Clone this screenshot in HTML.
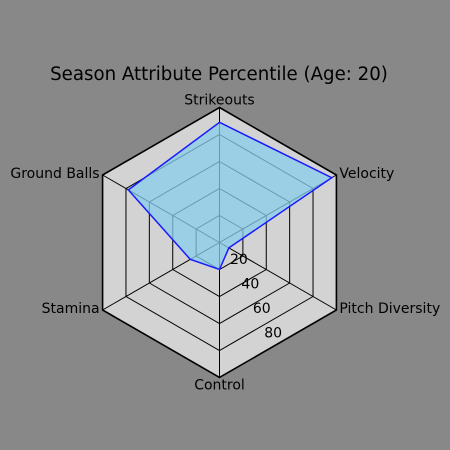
<!DOCTYPE html>
<html><head><meta charset="utf-8"><style>
html,body{margin:0;padding:0;background:#888888;}
svg{display:block;font-family:"DejaVu Sans","Liberation Sans",sans-serif;}
</style></head><body>
<svg id="chart" width="450" height="450" viewBox="0 0 450 450">
<rect x="0" y="0" width="450" height="450" fill="#888888"/>
<text x="219" y="80" font-size="18.2" text-anchor="middle" fill="#000">Season Attribute Percentile (Age: 20)</text>
<g id="plot"></g>
</svg>
<script>
const categories = ["Strikeouts","Velocity","Pitch Diversity","Control","Stamina","Ground Balls"];
const values = [89, 96, 8, 20, 25, 78];
const ticks = [20, 40, 60, 80];
const maxVal = 100;
const cx = 219.5, cy = 242.5, R = 135;
const ns = "http://www.w3.org/2000/svg";
const g = document.getElementById('plot');
function ang(i){ return -Math.PI/2 + i*2*Math.PI/categories.length; }
function pt(i, v){ const r = v/maxVal*R; return [cx + r*Math.cos(ang(i)), cy + r*Math.sin(ang(i))]; }
function poly(v){ return categories.map((c,i)=>pt(i, typeof v==='number'?v:v[i]).join(',')).join(' '); }
function mk(tag, attrs){ const e=document.createElementNS(ns,tag); for(const k in attrs) e.setAttribute(k,attrs[k]); g.appendChild(e); return e; }
let bg = mk('polygon',{points:poly(maxVal),fill:'#d3d3d3',stroke:'none'});


ticks.forEach(t=>{
  let gl = mk('polygon',{points:poly(t),fill:'none',stroke:'#000',"stroke-width":'1'});
  
  
});
categories.forEach((c,i)=>{
  const p = pt(i, maxVal);
  let sp = mk('line',{x1:cx,y1:cy,x2:p[0],y2:p[1],stroke:'#000',"stroke-width":'1'});
  
  
});
let area = mk('polygon',{points:poly(values),fill:'#87ceeb',"fill-opacity":'0.75',stroke:'none'});


let outer = mk('polygon',{points:poly(maxVal),fill:'none',stroke:'#000',"stroke-width":'1.6'});


let line = mk('polygon',{points:poly(values),fill:'none',stroke:'#1a1aff',"stroke-width":'1.5'});


categories.forEach((c,i)=>{
  const p = pt(i, maxVal);
  const a = ang(i), cs = Math.cos(a), sn = Math.sin(a);
  let x = p[0], y = p[1], anchor = 'middle';
  if (cs > 0.1){ anchor='start'; x += 3; y += 3; }
  else if (cs < -0.1){ anchor='end'; x -= 3; y += 3; }
  else if (sn < 0){ y -= 3; }
  else { y += 12; }
  let t = mk('text',{x:x,y:y,"font-size":'14',"text-anchor":anchor,fill:'#000'});
  t.textContent = c;
  
  
});
const ta = 65*Math.PI/180;
ticks.forEach(t=>{
  const r = t/maxVal*R;
  let tx = mk('text',{x:cx + r*Math.cos(ta)+8, y:cy + r*Math.sin(ta)-3, "font-size":'14',"text-anchor":'middle',fill:'#000'});
  tx.textContent = t;
  
  
});
</script>
</body></html>
